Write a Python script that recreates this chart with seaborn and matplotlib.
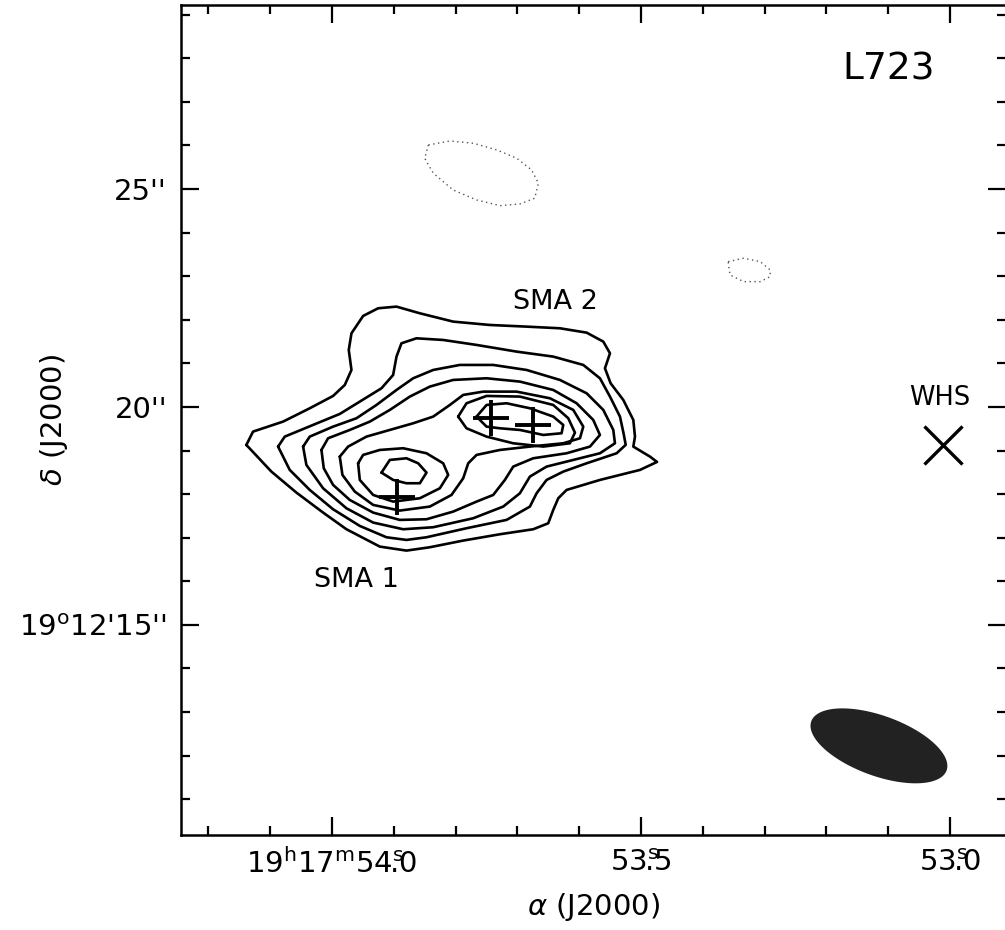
import numpy as np
import pandas as pd
import seaborn as sns
import matplotlib
matplotlib.use("Agg")
import matplotlib.pyplot as plt
from matplotlib.ticker import MultipleLocator

sns.set_theme(style="ticks")
plt.rcParams['font.family'] = ['DejaVu Sans']
plt.rcParams['mathtext.fontset'] = 'dejavusans'
plt.rcParams['text.color'] = 'black'
plt.rcParams['axes.labelcolor'] = 'black'
plt.rcParams['xtick.color'] = 'black'
plt.rcParams['ytick.color'] = 'black'

# ---------------- data ----------------
# reference position of the offsets: RA 19h17m53.5s, Dec +19d12'20"
RA0_S = 53.5
DEC0_AS = 20.0
DEC_DEG = 19.2056
# contour vertices: offsets in arcsec (east positive, north positive)
c1_dra = [9.045, 8.892, 8.204, 7.592, 7.057, 6.789, 6.636, 6.698, 6.636, 6.369, 6.025, 5.604, 5.069, 4.305,
          3.464, 2.623, 1.858, 1.246, 0.864, 0.711, 0.826, 0.696, 0.406, 0.176, 0.138, 0.176, -0.206, -0.367,
          0.023, 0.941, 1.705, 1.896, 2.011, 2.126, 2.470, 3.234, 4.075, 4.840, 5.375, 5.987, 6.751, 7.286,
          7.898, 8.471]
c1_ddec = [-0.872, -0.566, -0.337, -0.031, 0.252, 0.504, 0.848, 1.307, 1.689, 2.087, 2.263, 2.301, 2.148, 1.957,
           1.880, 1.842, 1.804, 1.704, 1.498, 1.230, 0.886, 0.542, 0.160, -0.299, -0.681, -0.910, -1.140, -1.262,
           -1.445, -1.675, -1.904, -2.095, -2.363, -2.669, -2.806, -2.921, -3.066, -3.219, -3.296, -3.204, -2.806,
           -2.424, -1.965, -1.484]
c2_dra = [8.318, 8.165, 7.516, 6.904, 6.445, 5.948, 5.681, 5.604, 5.490, 5.146, 4.534, 3.769, 2.852, 2.011,
          1.323, 0.941, 0.711, 0.482, 0.400, 0.350, 0.558, 1.246, 1.782, 2.164, 2.393, 2.546, 3.081, 3.999,
          4.916, 5.375, 5.834, 6.445, 7.057, 7.592, 8.051]
c2_ddec = [-0.910, -0.681, -0.413, -0.161, 0.122, 0.428, 0.733, 1.154, 1.460, 1.574, 1.536, 1.422, 1.269, 1.154,
           0.963, 0.657, 0.237, -0.222, -0.604, -0.870, -1.063, -1.293, -1.484, -1.675, -1.981, -2.286, -2.592,
           -2.783, -2.990, -3.051, -2.990, -2.730, -2.348, -1.904, -1.445]
c3_dra = [7.745, 7.592, 7.057, 6.522, 6.063, 5.604, 5.222, 4.763, 4.152, 3.387, 2.623, 1.858, 1.246, 0.864,
          0.635, 0.597, 0.941, 1.552, 2.164, 2.546, 2.776, 3.158, 3.846, 4.763, 5.451, 6.139, 6.751, 7.286, 7.669]
c3_ddec = [-0.910, -0.681, -0.452, -0.260, 0.045, 0.389, 0.657, 0.848, 0.963, 0.963, 0.848, 0.619, 0.313, -0.069,
           -0.528, -0.834, -1.063, -1.216, -1.369, -1.598, -1.981, -2.286, -2.554, -2.760, -2.806, -2.653, -2.325,
           -1.866, -1.331]
c4_dra = [7.324, 7.172, 6.675, 6.216, 5.757, 5.298, 4.840, 4.305, 3.540, 2.776, 2.011, 1.476, 1.094, 0.941,
          1.170, 1.705, 2.470, 2.928, 3.120, 3.387, 3.769, 4.305, 4.916, 5.528, 6.139, 6.675, 7.057, 7.271]
c4_ddec = [-0.987, -0.719, -0.528, -0.337, -0.069, 0.237, 0.466, 0.619, 0.657, 0.581, 0.389, 0.084, -0.299, -0.643,
           -0.910, -1.063, -1.178, -1.369, -1.675, -2.019, -2.172, -2.401, -2.577, -2.592, -2.424, -2.134, -1.789,
           -1.407]
c5_dra = [6.904, 6.713, 6.292, 5.757, 5.222, 4.763, 4.381, 4.075, 3.617, 2.852, 2.087, 1.552, 1.323, 1.399,
          1.782, 2.546, 3.234, 3.769, 3.960, 4.075, 4.343, 4.840, 5.528, 6.139, 6.560, 6.843]
c5_ddec = [-1.140, -0.910, -0.681, -0.528, -0.375, -0.222, 0.045, 0.275, 0.351, 0.351, 0.198, -0.069, -0.452, -0.719,
           -0.834, -0.910, -0.987, -1.101, -1.293, -1.637, -2.019, -2.286, -2.378, -2.248, -1.942, -1.560]
c6a_dra = [6.484, 6.369, 5.987, 5.451, 4.916, 4.534, 4.419, 4.610, 5.069, 5.681, 6.139, 6.445]
c6a_ddec = [-1.293, -1.101, -0.987, -0.948, -1.063, -1.293, -1.560, -1.866, -2.095, -2.172, -2.019, -1.675]
c7a_dra = [5.948, 5.757, 5.375, 5.107, 4.916, 5.069, 5.375, 5.681]
c7a_ddec = [-1.507, -1.216, -1.178, -1.293, -1.507, -1.751, -1.751, -1.675]
c6b_dra = [4.190, 3.999, 3.540, 2.776, 2.011, 1.667, 1.514, 1.629, 2.240, 2.928, 3.540, 3.999]
c6b_ddec = [-0.222, 0.084, 0.252, 0.237, 0.045, -0.260, -0.589, -0.834, -0.910, -0.834, -0.681, -0.490]
c7b_dra = [3.769, 3.540, 3.081, 2.546, 2.011, 1.782, 1.820, 2.240, 2.776, 3.234, 3.540]
c7b_ddec = [-0.222, 0.045, 0.084, -0.031, -0.222, -0.413, -0.604, -0.643, -0.528, -0.490, -0.452]

# negative (dotted) contours, RA in seconds (53.xxx s), Dec in arcsec (19d12'xx")
n1_ra = [53.844, 53.809, 53.771, 53.733, 53.701, 53.677, 53.666, 53.672, 53.696, 53.728, 53.766, 53.804, 53.836, 53.850]
n1_dec = [26.009, 26.101, 26.048, 25.894, 25.704, 25.436, 25.131, 24.787, 24.656, 24.617, 24.748, 24.977, 25.360, 25.704]
n2_ra = [53.359, 53.334, 53.307, 53.291, 53.291, 53.307, 53.334, 53.356]
n2_dec = [23.333, 23.411, 23.333, 23.142, 22.989, 22.874, 22.874, 23.028]

# source positions
cross_ra = [53.895, 53.742, 53.674]
cross_dec = [17.943, 19.741, 19.587]
whs_ra = [53.011]
whs_dec = [19.128]

labels_txt = ["SMA 2", "SMA 1", "WHS", "L723"]
labels_ra = [53.639, 53.960, 53.016, 53.100]
labels_dec = [22.41, 16.03, 20.21, 27.73]

beam_ra, beam_dec = 53.115, 12.225
beam_maj, beam_min, beam_pa = 3.30, 1.38, 70.0   # arcsec, arcsec, deg

xticks = [54.0, 53.5, 53.0]
xticklabels = [r"19$^{\rm h}$17$^{\rm m}$54$^{\rm s}\!\!\!$.0", r"53$^{\rm s}\!\!\!$.5", r"53$^{\rm s}\!\!\!$.0"]
yticks = [15, 20, 25]
yticklabels = [r"19$^{\rm o}$12'15''", "20''", "25''"]

# ---------------- build tables ----------------
scale = 15.0 * np.cos(np.radians(DEC_DEG))  # arcsec per second of RA
pos = {"c1": (c1_dra, c1_ddec), "c2": (c2_dra, c2_ddec), "c3": (c3_dra, c3_ddec), "c4": (c4_dra, c4_ddec),
       "c5": (c5_dra, c5_ddec), "c6a": (c6a_dra, c6a_ddec), "c7a": (c7a_dra, c7a_ddec),
       "c6b": (c6b_dra, c6b_ddec), "c7b": (c7b_dra, c7b_ddec)}
rows = []
for name, (dra, ddec) in pos.items():
    dra = list(dra) + [dra[0]]
    ddec = list(ddec) + [ddec[0]]
    for i, (a, d) in enumerate(zip(dra, ddec)):
        rows.append({"level": name, "i": i, "ra": RA0_S + a / scale, "dec": DEC0_AS + d})
pos_df = pd.DataFrame(rows)

nrows = []
for name, (ra, dec) in {"n1": (n1_ra, n1_dec), "n2": (n2_ra, n2_dec)}.items():
    ra = list(ra) + [ra[0]]
    dec = list(dec) + [dec[0]]
    for i, (a, d) in enumerate(zip(ra, dec)):
        nrows.append({"level": name, "i": i, "ra": a, "dec": d})
neg_df = pd.DataFrame(nrows)

# ---------------- figure ----------------
fig = plt.figure(figsize=(10.05, 9.3), dpi=100)
ax = fig.add_axes([181 / 1005, 95 / 930, 825 / 1005, 830 / 930])

sns.lineplot(data=pos_df, x="ra", y="dec", units="level", estimator=None, sort=False,
             color="black", lw=1.9, ax=ax, legend=False)
sns.lineplot(data=neg_df, x="ra", y="dec", units="level", estimator=None, sort=False,
             color="#555555", lw=1.0, linestyle=(0, (1, 2.5)), ax=ax, legend=False)

sns.scatterplot(x=cross_ra, y=cross_dec, marker="+", s=700, color="black", linewidth=2.8, ax=ax, legend=False)
sns.scatterplot(x=whs_ra, y=whs_dec, marker="x", s=750, color="black", linewidth=2.4, ax=ax, legend=False)

# beam
t = np.linspace(0, 2 * np.pi, 200)
pa = np.radians(beam_pa)
u = beam_maj / 2 * np.cos(t)
v = beam_min / 2 * np.sin(t)
east = u * np.sin(pa) - v * np.cos(pa)
north = u * np.cos(pa) + v * np.sin(pa)
ax.fill(beam_ra + east / scale, beam_dec + north, color="#222222", lw=0)

sizes = [19.5, 19.5, 18.5, 27]
for txt, x, y, s in zip(labels_txt, labels_ra, labels_dec, sizes):
    ax.text(x, y, txt, ha="center", va="center", fontsize=s, color="black")

ax.set_xlim(54.2443, 52.9094)
ax.set_ylim(10.18, 29.22)
ax.set_xticks(xticks)
ax.set_xticklabels(xticklabels)
ax.set_yticks(yticks)
ax.set_yticklabels(yticklabels)
ax.xaxis.set_minor_locator(MultipleLocator(0.1))
ax.yaxis.set_minor_locator(MultipleLocator(1))
ax.tick_params(which="both", direction="in", top=True, right=True, width=1.6, color="black", labelcolor="black")
ax.tick_params(which="major", length=13, labelsize=21, pad=10)
ax.tick_params(which="minor", length=6.5)
for sp in ax.spines.values():
    sp.set_linewidth(1.8)
    sp.set_color("black")

ax.set_xlabel(r"$\alpha$ (J2000)", fontsize=21, labelpad=8, color="black")
ax.set_ylabel(r"$\delta$ (J2000)", fontsize=21, color="black")
ax.yaxis.set_label_coords(-0.1345, 0.5)

fig.savefig("out.png", dpi=100)
